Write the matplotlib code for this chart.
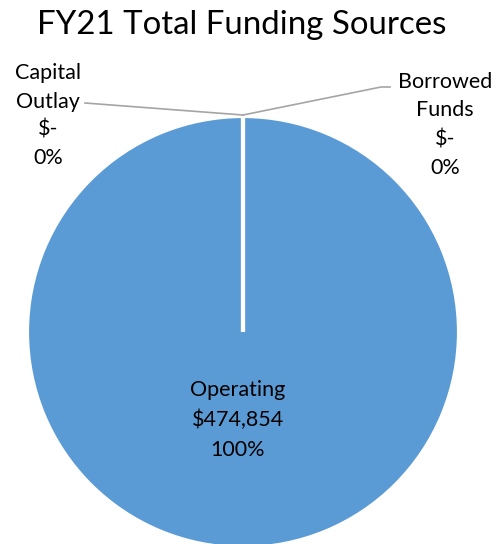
import matplotlib
matplotlib.use("Agg")
import matplotlib.pyplot as plt

# FY21 funding by source
sources = ["Operating", "Capital Outlay", "Borrowed Funds"]
amounts = [474854, 0, 0]
title = "FY21 Total Funding Sources"

W, H = 503, 544
plt.rcParams["font.family"] = ["Lato", "DejaVu Sans"]

fig = plt.figure(figsize=(W / 100, H / 100), dpi=100)
ax = fig.add_axes([0, 0, 1, 1])
ax.set_xlim(0, W)
ax.set_ylim(0, H)
ax.set_aspect("equal")
ax.axis("off")

cx, cy, r = 243, H - 332, 216
ax.pie(amounts, center=(cx, cy), radius=r, startangle=90, counterclock=False,
       colors=["#5B9BD5"] * 3, normalize=True,
       wedgeprops=dict(edgecolor="white", linewidth=3))
ax.set_xlim(0, W)
ax.set_ylim(0, H)

total = sum(amounts)


def label(i):
    v = amounts[i]
    money = f"${v:,.0f}" if v else "$-"
    pct = f"{v / total * 100:.0f}%"
    return sources[i], money, pct


def stack(x, y, lines, step):
    for k, s in enumerate(lines):
        ax.text(x, H - (y + k * step), s, ha="center", va="center",
                fontsize=15.5, color="black")


# Operating label inside the slice
name, money, pct = label(0)
stack(238, 390, [name, money, pct], 30)

# zero-value slices sit at the top, labelled outside with leaders
name, money, pct = label(1)
stack(48, 73, name.split(" ") + [money, pct], 28.5)
name, money, pct = label(2)
stack(445, 82, name.split(" ") + [money, pct], 28.5)

top = (cx, H - 115)
ax.plot([85, top[0]], [H - 103, top[1]], color="#A5A5A5", lw=1.2)
ax.plot([top[0], 381, 390], [top[1], H - 87, H - 87], color="#A5A5A5", lw=1.2)

fig.text(242 / W, 1 - 25 / H, title, ha="center", va="center", fontsize=23.8)

fig.savefig("out.png", dpi=100)
